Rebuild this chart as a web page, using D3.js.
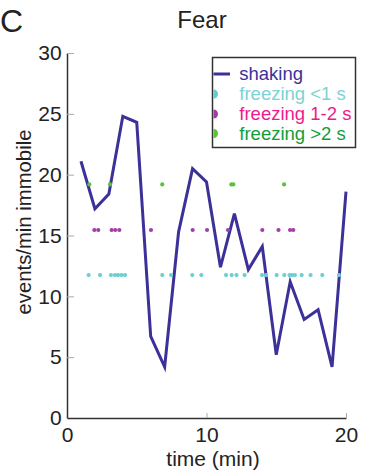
<!DOCTYPE html>
<html>
<head>
<meta charset="utf-8">
<script src="https://cdn.jsdelivr.net/npm/d3@7"></script>
<style>
  body { margin: 0; background: #fff; }
  text { font-family: "Liberation Sans", Arial, sans-serif; }
</style>
</head>
<body>
<div class="canva"></div>
<script>
// shaking rate per minute
const minutes = [1,2,3,4,5,6,7,8,9,10,11,12,13,14,15,16,17,18,19,20];
const shaking = [21.1,17.2,18.4,24.8,24.3,6.7,4.2,15.3,20.5,19.4,12.4,16.8,12.2,14.1,5.2,11.2,8.1,8.9,4.2,18.6];

// freezing event times (min) and the level they are plotted at
const freezeShortTimes = [1.55,2.37,3.15,3.44,3.66,3.91,4.16,6.83,7.46,8.98,9.63,11.4,11.8,12.15,12.73,13.98,14.27,15.03,15.58,15.95,16.13,16.34,16.82,17.46,18.3,19.5];
const freezeMidTimes = [1.96,2.24,3.2,3.46,3.75,6.02,9.01,10.04,11.54,14.0,15.16,15.99,16.22];
const freezeLongTimes = [1.6,3.08,6.83,11.78,11.92,15.56];
const freezeLevels = [11.75, 15.45, 19.2];

const xTicks = [0, 10, 20];
const yTicks = [0, 5, 10, 15, 20, 25, 30];

const legendLabels = ['shaking', 'freezing <1 s', 'freezing 1-2 s', 'freezing >2 s'];
const legendText = ['#3b3199', '#7dd2d3', '#f0198c', '#109d3a'];
const legendMark = ['#3b3199', '#62cccd', '#9e3ca3', '#58c13c'];

const lineColor = '#3b3199';
const dotColors = ['#6dcfd0', '#a23fa6', '#5cc13e'];

const svg = d3.select('.canva').append('svg')
              .attr('width', 368)
              .attr('height', 472);

const x = d3.scaleLinear().domain([0, 20]).range([67, 346]);
const y = d3.scaleLinear().domain([0, 30]).range([418, 53]);

//panel letter and title
svg.append('text').attr('x', 0).attr('y', 32)
   .attr('font-size', 32).attr('fill', '#222').text('C');
svg.append('text').attr('x', 202).attr('y', 28)
   .attr('text-anchor', 'middle').attr('font-size', 24).attr('fill', '#222').text('Fear');

//axes
const xAxis = d3.axisBottom(x).tickValues(xTicks).tickSizeInner(-5).tickSizeOuter(0).tickPadding(8.6);
const yAxis = d3.axisLeft(y).tickValues(yTicks).tickSizeInner(-7).tickSizeOuter(0).tickPadding(5.3);

const xg = svg.append('g').attr('transform', `translate(0, ${y(0)})`).call(xAxis);
const yg = svg.append('g').attr('transform', `translate(${x(0)}, 0)`).call(yAxis);

[xg, yg].forEach(g => {
  g.select('.domain').attr('stroke', '#333').attr('stroke-width', 1.5);
  g.selectAll('.tick line').attr('stroke', '#aaa').attr('stroke-width', 1);
  g.selectAll('.tick text').attr('font-size', 21).attr('fill', '#222')
   .style('font-family', '"Liberation Sans", Arial, sans-serif');
});
yg.selectAll('.tick').filter(d => d === 0).select('line').remove();

svg.append('text').attr('x', 213).attr('y', 466)
   .attr('text-anchor', 'middle').attr('font-size', 21).attr('fill', '#222').text('time (min)');
svg.append('text')
   .attr('transform', 'translate(31, 222) rotate(-90)')
   .attr('text-anchor', 'middle').attr('font-size', 20.3).attr('fill', '#222').text('events/min immobile');

//shaking line
const line = d3.line().x((d, i) => x(minutes[i])).y(d => y(d));
svg.append('path').datum(shaking)
   .attr('d', line)
   .attr('fill', 'none')
   .attr('stroke', lineColor)
   .attr('stroke-width', 3)
   .attr('stroke-linejoin', 'miter');

//freezing dots
[freezeShortTimes, freezeMidTimes, freezeLongTimes].forEach((times, k) => {
  svg.append('g').selectAll('circle').data(times)
     .enter().append('circle')
     .attr('cx', d => x(d))
     .attr('cy', y(freezeLevels[k]))
     .attr('r', 2.1)
     .attr('fill', dotColors[k]);
});

//legend
const legend = svg.append('g');
legend.append('rect')
      .attr('x', 212.5).attr('y', 57.5).attr('width', 143).attr('height', 90)
      .attr('fill', '#fff').attr('stroke', '#333').attr('stroke-width', 1.5);

const rowBase = [80, 100, 120, 139.5];
legendLabels.forEach((lab, i) => {
  legend.append('text').attr('x', 239.3).attr('y', rowBase[i])
        .attr('font-size', 18.5).attr('fill', legendText[i]).text(lab);
  const cy = rowBase[i] - 6;
  if (i === 0) {
    legend.append('line').attr('x1', 213.5).attr('x2', 230).attr('y1', cy).attr('y2', cy)
          .attr('stroke', legendMark[i]).attr('stroke-width', 3);
  } else {
    const arc = d3.arc()({innerRadius: 0, outerRadius: 4.5, startAngle: 0, endAngle: Math.PI});
    legend.append('path').attr('d', arc)
          .attr('transform', `translate(213.5, ${cy})`)
          .attr('fill', legendMark[i]);
  }
});
</script>
</body>
</html>
